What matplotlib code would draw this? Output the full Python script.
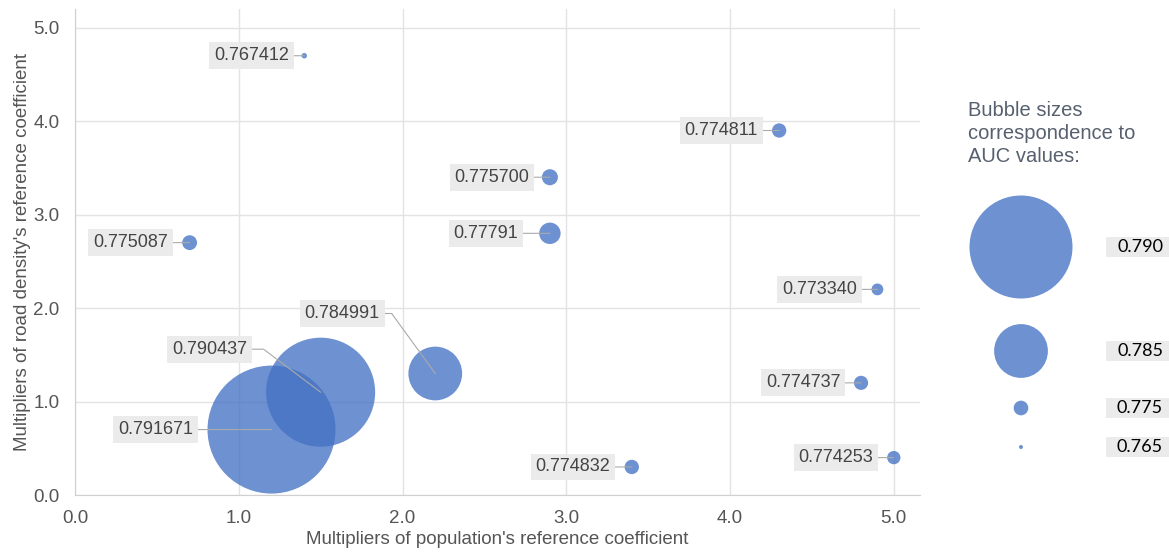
import matplotlib
matplotlib.use("Agg")
import matplotlib.pyplot as plt
from matplotlib.patches import Rectangle
import numpy as np

# data
pop_mult  = [1.4, 4.3, 2.9, 2.9, 0.7, 4.9, 2.2, 1.5, 1.2, 4.8, 3.4, 5.0]
road_mult = [4.7, 3.9, 3.4, 2.8, 2.7, 2.2, 1.3, 1.1, 0.7, 1.2, 0.3, 0.4]
auc       = [0.767412, 0.774811, 0.775700, 0.77791, 0.775087, 0.773340,
             0.784991, 0.790437, 0.791671, 0.774737, 0.774832, 0.774253]
auc_text  = ["0.767412", "0.774811", "0.775700", "0.77791", "0.775087", "0.773340",
             "0.784991", "0.790437", "0.791671", "0.774737", "0.774832", "0.774253"]

legend_auc  = [0.790, 0.785, 0.775, 0.765]
legend_text = ["0.790", "0.785", "0.775", "0.765"]

# label placement (pixel offsets from bubble centre) and leader angles
label_off = [(-53, 0), (-58, 0), (-58, 0), (-64, 0), (-59, 0), (-58, 0),
             (-93, 60), (-111, 43), (-116, 0), (-58, 0), (-59, 0), (-58, 0)]
leader_ang = [None] * 6 + [126, 143, None] + [None] * 3

DPI = 100
BLUE = "#4472c4"
R_MAX = 64.0     # radius in px of the largest bubble
K = 130.0

def bubble_size(v):
    v = np.asarray(v, dtype=float)
    r = R_MAX * np.exp(K * (v - max(auc)))
    return (2 * r * 72.0 / DPI) ** 2

plt.rcParams['font.family'] = ['Liberation Sans', 'DejaVu Sans']

fig = plt.figure(figsize=(11.69, 5.53), dpi=DPI)
ax = fig.add_axes([75/1169, 58/553, 845/1169, 486/553])

ax.scatter(pop_mult, road_mult, s=bubble_size(auc), color=BLUE, alpha=0.78,
           edgecolors='none', zorder=3, clip_on=False)

for i in range(len(auc)):
    dx, dy = label_off[i]
    if leader_ang[i] is None:
        cs = "arc3"
    else:
        cs = "angle,angleA=0,angleB=%d,rad=0" % leader_ang[i]
    ax.annotate(auc_text[i], xy=(pop_mult[i], road_mult[i]),
                xytext=(dx, dy), textcoords='offset pixels',
                ha='center', va='center', fontsize=13, color='#444444',
                bbox=dict(boxstyle='square,pad=0.27', fc='#ebebeb', ec='none'),
                arrowprops=dict(arrowstyle='-', color='#aaaaaa', lw=0.8,
                                connectionstyle=cs, shrinkA=0, shrinkB=0),
                zorder=5)

ax.set_xlim(0, 5.16)
ax.set_ylim(0, 5.2)
ticks = [0, 1, 2, 3, 4, 5]
ax.set_xticks(ticks)
ax.set_xticklabels(["%.1f" % t for t in ticks])
ax.set_yticks(ticks)
ax.set_yticklabels(["%.1f" % t for t in ticks])
ax.tick_params(length=0, labelsize=13.5, labelcolor='#555555')
ax.tick_params(axis='x', pad=11)
ax.tick_params(axis='y', pad=11)
ax.grid(True, color='#e3e3e3', lw=1)
ax.set_axisbelow(True)
for side in ['top', 'right']:
    ax.spines[side].set_visible(False)
for side in ['left', 'bottom']:
    ax.spines[side].set_color('#d0d0d0')

ax.set_xlabel("Multipliers of population's reference coefficient",
              fontsize=13.5, color='#555555', labelpad=3)
ax.set_ylabel("Multipliers of road density's reference coefficient",
              fontsize=13.5, color='#555555', labelpad=2)

# bubble size legend on the right, drawn in pixel coordinates
lg = fig.add_axes([0, 0, 1, 1], facecolor='none')
lg.set_xlim(0, 1169)
lg.set_ylim(553, 0)
lg.axis('off')

lg.text(968, 101, "Bubble sizes\ncorrespondence to\nAUC values:",
        fontsize=14.5, color='#56606e', ha='left', va='top', linespacing=1.25)

leg_y = [247, 351, 408, 447]
lg.scatter([1021] * len(legend_auc), leg_y, s=bubble_size(legend_auc),
           color=BLUE, alpha=0.78, edgecolors='none')
for yy, t in zip(leg_y, legend_text):
    lg.add_patch(Rectangle((1106, yy - 10), 70, 20, fc='#ebebeb', ec='none'))
    lg.text(1140, yy, t, fontsize=13, color='black', ha='center', va='center',
            family=['Lato', 'DejaVu Sans'])

fig.savefig("out.png", dpi=DPI)
